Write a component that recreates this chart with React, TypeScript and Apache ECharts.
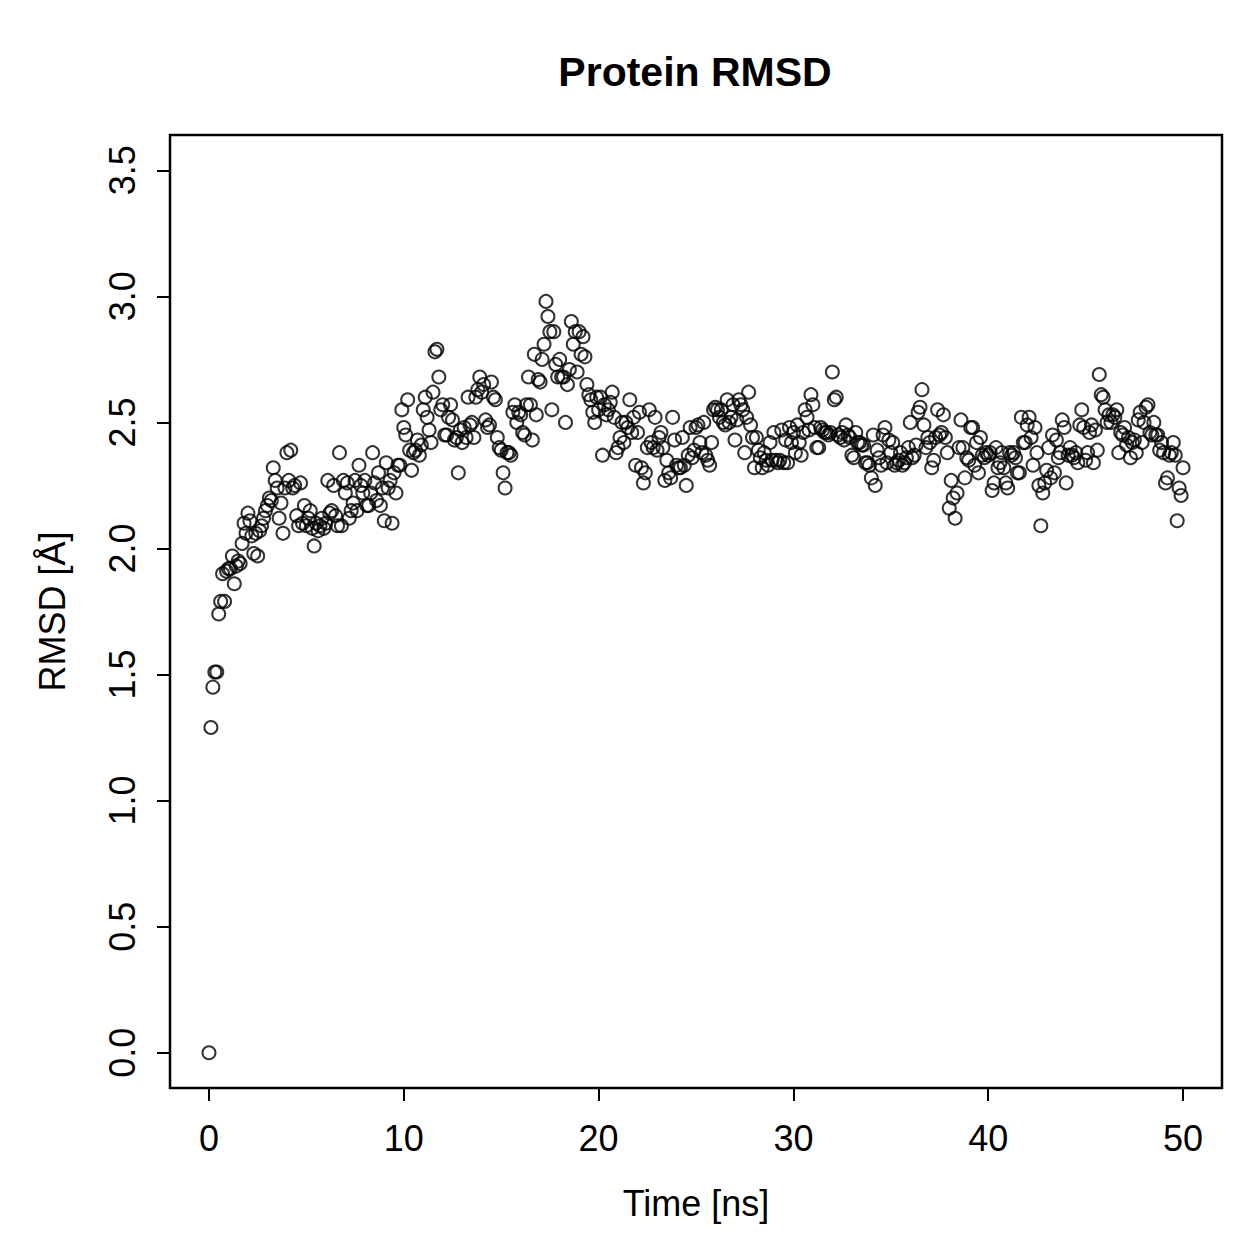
import React, { useEffect, useRef } from "react";
import * as echarts from "echarts";

// Protein backbone RMSD sampled every 0.1 ns over a 50 ns trajectory.
const TIME_STEP_NS = 0.1;

// One row per nanosecond (10 frames each), frames 0.0 .. 49.9 ns.
const rmsdByNs: number[][] = [
  [0.0, 1.29, 1.45, 1.51, 1.51, 1.74, 1.79, 1.9, 1.79, 1.91],
  [1.92, 1.92, 1.97, 1.86, 1.93, 1.95, 1.94, 2.02, 2.1, 2.06],
  [2.14, 2.11, 2.05, 1.98, 2.06, 1.97, 2.07, 2.09, 2.12, 2.15],
  [2.17, 2.2, 2.19, 2.32, 2.27, 2.24, 2.12, 2.18, 2.06, 2.24],
  [2.38, 2.27, 2.39, 2.24, 2.25, 2.13, 2.09, 2.26, 2.1, 2.17],
  [2.09, 2.12, 2.15, 2.08, 2.01, 2.1, 2.07, 2.09, 2.12, 2.08],
  [2.1, 2.27, 2.14, 2.15, 2.25, 2.13, 2.09, 2.38, 2.09, 2.27],
  [2.22, 2.26, 2.12, 2.15, 2.18, 2.27, 2.15, 2.33, 2.25, 2.22],
  [2.27, 2.17, 2.17, 2.22, 2.38, 2.26, 2.19, 2.3, 2.17, 2.24],
  [2.11, 2.34, 2.24, 2.27, 2.1, 2.3, 2.22, 2.33, 2.33, 2.55],
  [2.48, 2.45, 2.59, 2.39, 2.31, 2.38, 2.39, 2.43, 2.37, 2.41],
  [2.55, 2.6, 2.52, 2.47, 2.42, 2.62, 2.78, 2.79, 2.68, 2.55],
  [2.57, 2.45, 2.45, 2.52, 2.57, 2.51, 2.43, 2.44, 2.3, 2.47],
  [2.42, 2.48, 2.44, 2.6, 2.49, 2.5, 2.44, 2.6, 2.63, 2.68],
  [2.62, 2.65, 2.51, 2.48, 2.49, 2.66, 2.6, 2.59, 2.44, 2.4],
  [2.39, 2.3, 2.24, 2.38, 2.38, 2.37, 2.54, 2.57, 2.5, 2.54],
  [2.53, 2.46, 2.45, 2.57, 2.68, 2.57, 2.43, 2.77, 2.53, 2.67],
  [2.66, 2.75, 2.81, 2.98, 2.92, 2.86, 2.55, 2.86, 2.73, 2.68],
  [2.75, 2.68, 2.68, 2.5, 2.65, 2.71, 2.9, 2.81, 2.86, 2.7],
  [2.86, 2.77, 2.84, 2.76, 2.65, 2.61, 2.59, 2.54, 2.5, 2.6],
  [2.55, 2.6, 2.37, 2.57, 2.53, 2.55, 2.58, 2.62, 2.52, 2.38],
  [2.4, 2.44, 2.5, 2.42, 2.5, 2.48, 2.59, 2.46, 2.52, 2.33],
  [2.46, 2.54, 2.32, 2.26, 2.3, 2.4, 2.55, 2.42, 2.4, 2.52],
  [2.39, 2.44, 2.46, 2.4, 2.27, 2.35, 2.3, 2.28, 2.52, 2.43],
  [2.33, 2.32, 2.32, 2.44, 2.33, 2.25, 2.37, 2.48, 2.36, 2.39],
  [2.48, 2.49, 2.42, 2.38, 2.5, 2.37, 2.35, 2.33, 2.42, 2.55],
  [2.56, 2.55, 2.52, 2.55, 2.5, 2.49, 2.59, 2.5, 2.52, 2.57],
  [2.43, 2.51, 2.59, 2.57, 2.55, 2.38, 2.52, 2.62, 2.49, 2.44],
  [2.32, 2.44, 2.39, 2.36, 2.32, 2.38, 2.35, 2.33, 2.42, 2.35],
  [2.46, 2.35, 2.34, 2.35, 2.47, 2.34, 2.43, 2.34, 2.48, 2.42],
  [2.46, 2.38, 2.49, 2.42, 2.37, 2.46, 2.55, 2.52, 2.47, 2.61],
  [2.57, 2.48, 2.4, 2.4, 2.48, 2.47, 2.46, 2.46, 2.45, 2.46],
  [2.7, 2.59, 2.6, 2.45, 2.44, 2.46, 2.43, 2.49, 2.45, 2.44],
  [2.37, 2.36, 2.46, 2.42, 2.42, 2.41, 2.41, 2.34, 2.34, 2.33],
  [2.28, 2.45, 2.25, 2.39, 2.36, 2.33, 2.45, 2.48, 2.34, 2.43],
  [2.38, 2.42, 2.33, 2.34, 2.35, 2.38, 2.33, 2.34, 2.36, 2.4],
  [2.5, 2.36, 2.37, 2.41, 2.54, 2.56, 2.63, 2.49, 2.4, 2.44],
  [2.42, 2.32, 2.35, 2.44, 2.55, 2.45, 2.46, 2.53, 2.44, 2.38],
  [2.16, 2.27, 2.2, 2.12, 2.22, 2.4, 2.51, 2.4, 2.28, 2.36],
  [2.35, 2.48, 2.48, 2.33, 2.42, 2.3, 2.44, 2.37, 2.36, 2.38],
  [2.37, 2.38, 2.23, 2.26, 2.4, 2.32, 2.34, 2.38, 2.32, 2.26],
  [2.24, 2.38, 2.37, 2.38, 2.36, 2.3, 2.3, 2.52, 2.42, 2.42],
  [2.49, 2.52, 2.44, 2.33, 2.48, 2.38, 2.25, 2.09, 2.22, 2.26],
  [2.31, 2.4, 2.28, 2.45, 2.3, 2.43, 2.36, 2.38, 2.51, 2.48],
  [2.26, 2.37, 2.4, 2.37, 2.36, 2.38, 2.34, 2.49, 2.55, 2.48],
  [2.35, 2.38, 2.46, 2.49, 2.34, 2.47, 2.39, 2.69, 2.61, 2.6],
  [2.55, 2.5, 2.53, 2.5, 2.53, 2.52, 2.55, 2.38, 2.46, 2.45],
  [2.48, 2.41, 2.44, 2.36, 2.42, 2.43, 2.38, 2.51, 2.54, 2.42],
  [2.5, 2.56, 2.57, 2.46, 2.45, 2.5, 2.45, 2.45, 2.39, 2.42],
  [2.38, 2.26, 2.28, 2.37, 2.38, 2.42, 2.37, 2.11, 2.24, 2.21],
];
// Last frame, at 50.0 ns.
const rmsdLastFrame = 2.32;

const timeTicks = [0, 10, 20, 30, 40, 50];
const rmsdTicks = [0, 0.5, 1, 1.5, 2, 2.5, 3, 3.5];

const FONT = "'Liberation Sans', Arial, Helvetica, sans-serif";

export default function App() {
  const ref = useRef<HTMLDivElement>(null);

  useEffect(() => {
    if (!ref.current) return;
    const chart = echarts.init(ref.current, undefined, { renderer: "svg" });

    const rmsd = [...rmsdByNs.flat(), rmsdLastFrame];
    const points = rmsd.map((v, i) => [Math.round(i * TIME_STEP_NS * 10) / 10, v]);

    chart.setOption({
      animation: false,
      backgroundColor: "#ffffff",
      title: {
        text: "Protein RMSD",
        left: 690,
        top: 46,
        textAlign: "center",
        textStyle: { fontFamily: FONT, fontSize: 41, fontWeight: "bold", color: "#000" },
      },
      grid: {
        left: 170,
        top: 135,
        width: 1052,
        height: 953,
        show: true,
        borderColor: "#000",
        borderWidth: 2.5,
        backgroundColor: "transparent",
      },
      xAxis: {
        type: "value",
        min: -2,
        max: 52,
        name: "Time [ns]",
        nameLocation: "middle",
        nameGap: 97,
        nameTextStyle: { fontFamily: FONT, fontSize: 36, color: "#000" },
        axisLine: { show: false, onZero: false },
        splitLine: { show: false },
        axisTick: {
          show: true,
          length: 13,
          lineStyle: { color: "#000", width: 2 },
          customValues: timeTicks,
        },
        axisLabel: {
          show: true,
          margin: 32,
          fontFamily: FONT,
          fontSize: 36,
          color: "#000",
          customValues: timeTicks,
          formatter: (v: number) => String(v),
        },
      },
      yAxis: {
        type: "value",
        min: -0.14,
        max: 3.64,
        name: "RMSD [Å]",
        nameLocation: "middle",
        nameRotate: 90,
        nameGap: 100,
        nameTextStyle: { fontFamily: FONT, fontSize: 36, color: "#000" },
        axisLine: { show: false, onZero: false },
        splitLine: { show: false },
        axisTick: {
          show: true,
          length: 13,
          lineStyle: { color: "#000", width: 2 },
          customValues: rmsdTicks,
        },
        axisLabel: {
          show: true,
          rotate: 90,
          margin: 30,
          fontFamily: FONT,
          fontSize: 36,
          color: "#000",
          customValues: rmsdTicks,
          formatter: (v: number) => v.toFixed(1),
        },
      },
      series: [
        {
          type: "scatter",
          data: points,
          symbol: "circle",
          symbolSize: 13,
          itemStyle: {
            color: "rgba(0,0,0,0)",
            borderColor: "#000",
            borderWidth: 2,
          },
          emphasis: { disabled: true },
        },
      ],
    });

    return () => chart.dispose();
  }, []);

  return (
    <div
      ref={ref}
      style={{ position: "absolute", left: 0, top: 0, width: 1259, height: 1259 }}
    />
  );
}
